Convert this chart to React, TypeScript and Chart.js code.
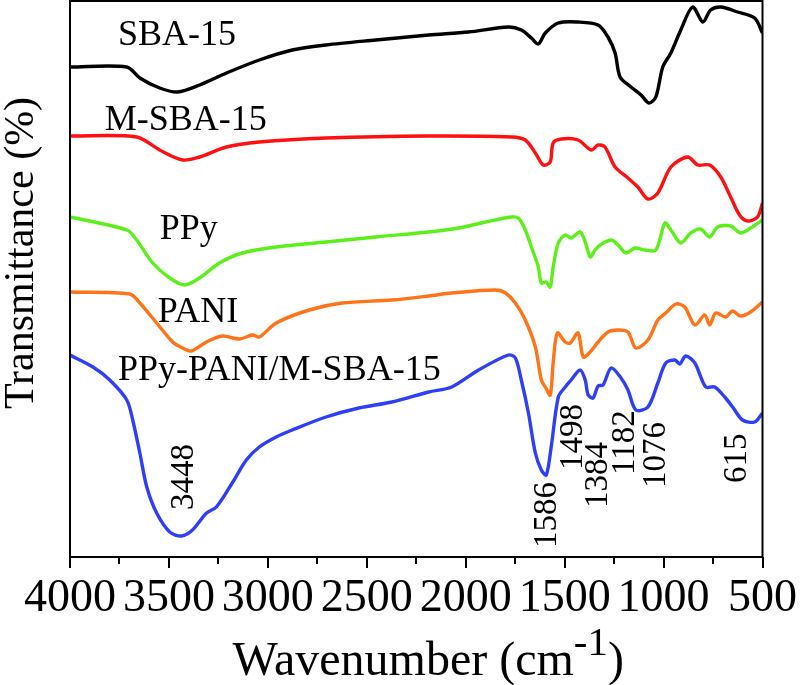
import React, { useEffect, useRef } from "react";
import { Chart, registerables } from "chart.js";

Chart.register(...registerables);

const FONT = "'Liberation Serif', 'Times New Roman', serif";

// Wavenumber (cm-1) and transmittance (offset, a.u.) for each spectrum
const sbaWn = [4000, 3713, 3647, 3547, 3456, 3345, 3209, 3043, 2877, 2706, 2454, 2187, 1986, 1784, 1719, 1668, 1633, 1598, 1532, 1432, 1331, 1281, 1245, 1220, 1165, 1114, 1074, 1039, 1004, 963, 913, 853, 802, 762, 711, 626, 540, 500];
const sbaT = [490, 490, 479, 469, 465, 472, 484, 497, 507, 512, 517, 522, 525, 530, 527, 519, 513, 524, 534, 535, 532, 520, 504, 480, 470, 462, 454, 460, 490, 504, 527, 550, 535, 547, 550, 545, 539, 524];

const msbaWn = [4000, 3663, 3547, 3431, 3345, 3209, 3043, 2706, 2187, 1769, 1699, 1648, 1608, 1573, 1558, 1517, 1432, 1366, 1331, 1296, 1245, 1180, 1130, 1079, 1029, 963, 878, 827, 767, 711, 661, 616, 576, 525, 500];
const msbaT = [421, 420, 407, 397, 400, 410, 415, 419, 421, 420, 417, 404, 392, 395, 414, 418, 417, 407, 412, 410, 390, 379, 370, 358, 364, 390, 400, 392, 392, 380, 360, 342, 336, 340, 354];

const ppyWn = [4000, 3713, 3663, 3582, 3496, 3421, 3345, 3245, 3129, 2958, 2706, 2454, 2187, 2036, 1900, 1769, 1734, 1699, 1668, 1633, 1618, 1593, 1573, 1558, 1532, 1497, 1467, 1422, 1396, 1371, 1346, 1321, 1265, 1230, 1190, 1145, 1094, 1039, 993, 963, 913, 863, 812, 767, 727, 661, 611, 560, 500];
const ppyT = [340, 327, 317, 294, 279, 272, 279, 294, 304, 310, 315, 320, 325, 329, 335, 340, 339, 327, 310, 290, 274, 275, 270, 290, 314, 322, 319, 325, 315, 300, 307, 312, 317, 312, 304, 309, 307, 307, 334, 327, 314, 324, 328, 320, 330, 331, 324, 329, 337];

const paniWn = [4000, 3698, 3647, 3562, 3481, 3431, 3386, 3310, 3230, 3144, 3078, 3043, 2958, 2791, 2625, 2373, 2187, 2071, 1850, 1799, 1749, 1699, 1648, 1618, 1598, 1573, 1558, 1537, 1497, 1472, 1432, 1406, 1371, 1331, 1281, 1230, 1180, 1140, 1079, 1029, 989, 938, 893, 842, 792, 767, 737, 686, 651, 611, 560, 500];
const paniT = [265, 263, 254, 234, 215, 209, 206, 215, 221, 218, 222, 220, 234, 247, 254, 257, 261, 264, 267, 264, 254, 237, 210, 177, 170, 162, 194, 224, 215, 214, 224, 200, 205, 215, 225, 227, 225, 209, 217, 237, 244, 253, 250, 232, 242, 232, 244, 240, 246, 241, 245, 255];

const compWn = [4000, 3884, 3799, 3713, 3683, 3647, 3612, 3562, 3496, 3436, 3381, 3310, 3260, 3180, 3109, 3043, 2958, 2877, 2706, 2540, 2373, 2187, 2071, 1935, 1784, 1749, 1719, 1683, 1648, 1618, 1593, 1568, 1532, 1497, 1467, 1422, 1396, 1381, 1356, 1331, 1306, 1265, 1215, 1180, 1140, 1079, 1029, 989, 943, 918, 888, 842, 787, 742, 691, 651, 601, 540, 500];
const compT = [202, 190, 177, 157, 137, 104, 70, 44, 25, 21, 27, 44, 50, 74, 97, 110, 120, 127, 140, 149, 155, 165, 170, 187, 202, 199, 177, 144, 104, 87, 82, 110, 160, 170, 177, 187, 177, 162, 159, 171, 172, 189, 179, 167, 147, 150, 174, 194, 197, 193, 201, 194, 170, 170, 160, 150, 137, 135, 144];

const seriesNames = ["SBA-15", "M-SBA-15", "PPy", "PANI", "PPy-PANI/M-SBA-15"];
const seriesWn = [sbaWn, msbaWn, ppyWn, paniWn, compWn];
const seriesT = [sbaT, msbaT, ppyT, paniT, compT];
const seriesColors = ["#000000", "#ff1010", "#5cf01a", "#ff7418", "#2f3ff5"];

// series name labels (left edge wavenumber, baseline transmittance)
const nameLabelWn = [3758, 3824, 3547, 3557, 3758];
const nameLabelT = [512, 427, 318, 235, 177];

// peak annotations (vertical text): centre wavenumber, start (bottom) transmittance
const peakLabels = ["3448", "1586", "1498", "1384", "1182", "1076", "615"];
const peakLabelWn = [3421, 1590, 1457, 1331, 1192, 1036, 626];
const peakLabelT = [47, 9, 87, 49, 82, 69, 74];

const xTickMajor = [4000, 3500, 3000, 2500, 2000, 1500, 1000, 500];
const xTickMinor = [3750, 3250, 2750, 2250, 1750, 1250, 750];

const decorPlugin = {
  id: "decor",
  afterDraw(chart: any) {
    const { ctx, chartArea, scales } = chart;
    const xs = scales.x;
    const ys = scales.y;
    const { left, right, top, bottom } = chartArea;
    ctx.save();
    ctx.fillStyle = "#000";
    ctx.strokeStyle = "#000";
    // frame
    ctx.lineWidth = 2;
    ctx.strokeRect(left, top, right - left, bottom - top);
    // minor ticks
    ctx.lineWidth = 2;
    ctx.beginPath();
    xTickMinor.forEach((v) => {
      const px = Math.round(xs.getPixelForValue(v));
      ctx.moveTo(px, bottom);
      ctx.lineTo(px, bottom + 7);
    });
    ctx.stroke();

    // series name labels
    ctx.font = `36px ${FONT}`;
    ctx.textAlign = "left";
    ctx.textBaseline = "alphabetic";
    seriesNames.forEach((n, i) => {
      ctx.fillText(n, xs.getPixelForValue(nameLabelWn[i]), ys.getPixelForValue(nameLabelT[i]));
    });

    // peak labels
    ctx.font = `33px ${FONT}`;
    ctx.textBaseline = "middle";
    peakLabels.forEach((p, i) => {
      ctx.save();
      ctx.translate(xs.getPixelForValue(peakLabelWn[i]), ys.getPixelForValue(peakLabelT[i]));
      ctx.rotate(-Math.PI / 2);
      ctx.fillText(p, 0, 0);
      ctx.restore();
    });

    // y title
    ctx.save();
    ctx.font = `42px ${FONT}`;
    ctx.textAlign = "center";
    ctx.textBaseline = "middle";
    ctx.translate(left - 48, (top + bottom) / 2 - 26);
    ctx.rotate(-Math.PI / 2);
    ctx.fillText("Transmittance (%)", 0, 0);
    ctx.restore();

    // x title with superscript
    const t1 = "Wavenumber (cm";
    const t2 = "-1";
    const t3 = ")";
    ctx.textAlign = "left";
    ctx.textBaseline = "alphabetic";
    ctx.font = `48px ${FONT}`;
    const w1 = ctx.measureText(t1).width;
    const w3 = ctx.measureText(t3).width;
    ctx.font = `41px ${FONT}`;
    const w2 = ctx.measureText(t2).width;
    const total = w1 + w2 + w3;
    const cx = (left + right) / 2 + 12;
    const base = bottom + 118;
    let sx = cx - total / 2;
    ctx.font = `48px ${FONT}`;
    ctx.fillText(t1, sx, base);
    sx += w1;
    ctx.font = `41px ${FONT}`;
    ctx.fillText(t2, sx, base - 20);
    sx += w2;
    ctx.font = `48px ${FONT}`;
    ctx.fillText(t3, sx, base);
    ctx.restore();
  },
};

export default function App() {
  const ref = useRef<HTMLCanvasElement | null>(null);
  useEffect(() => {
    if (!ref.current) return;
    const chart = new Chart(ref.current, {
      type: "line",
      data: {
        datasets: seriesNames.map((name, i) => ({
          label: name,
          data: seriesWn[i].map((w, j) => ({ x: w, y: seriesT[i][j] })),
          borderColor: seriesColors[i],
          backgroundColor: seriesColors[i],
          borderWidth: 3.4,
          pointRadius: 0,
          tension: 0.3,
          fill: false,
        })),
      },
      options: {
        animation: false,
        responsive: false,
        devicePixelRatio: 1,
        layout: { padding: { left: 70, right: 35, top: 1, bottom: 0 } },
        plugins: { legend: { display: false }, tooltip: { enabled: false } },
        scales: {
          x: {
            type: "linear",
            reverse: true,
            min: 500,
            max: 4000,
            afterBuildTicks: (scale: any) => {
              scale.ticks = xTickMajor.map((v) => ({ value: v }));
            },
            afterFit: (scale: any) => {
              scale.height = 128;
            },
            grid: {
              display: true,
              drawOnChartArea: false,
              drawTicks: true,
              tickLength: 11,
              lineWidth: 2,
              color: "#000",
            },
            border: { display: false },
            ticks: {
              color: "#000",
              font: { family: FONT, size: 46 },
              padding: 3,
              maxRotation: 0,
              autoSkip: false,
              callback: (v: any) => String(v),
            },
          },
          y: {
            type: "linear",
            display: false,
            min: 0,
            max: 556,
          },
        },
      },
      plugins: [decorPlugin],
    });
    return () => chart.destroy();
  }, []);
  return (
    <div style={{ position: "absolute", left: 0, top: 0, width: 800, height: 685, background: "#fff" }}>
      <canvas ref={ref} width={800} height={685} />
    </div>
  );
}
